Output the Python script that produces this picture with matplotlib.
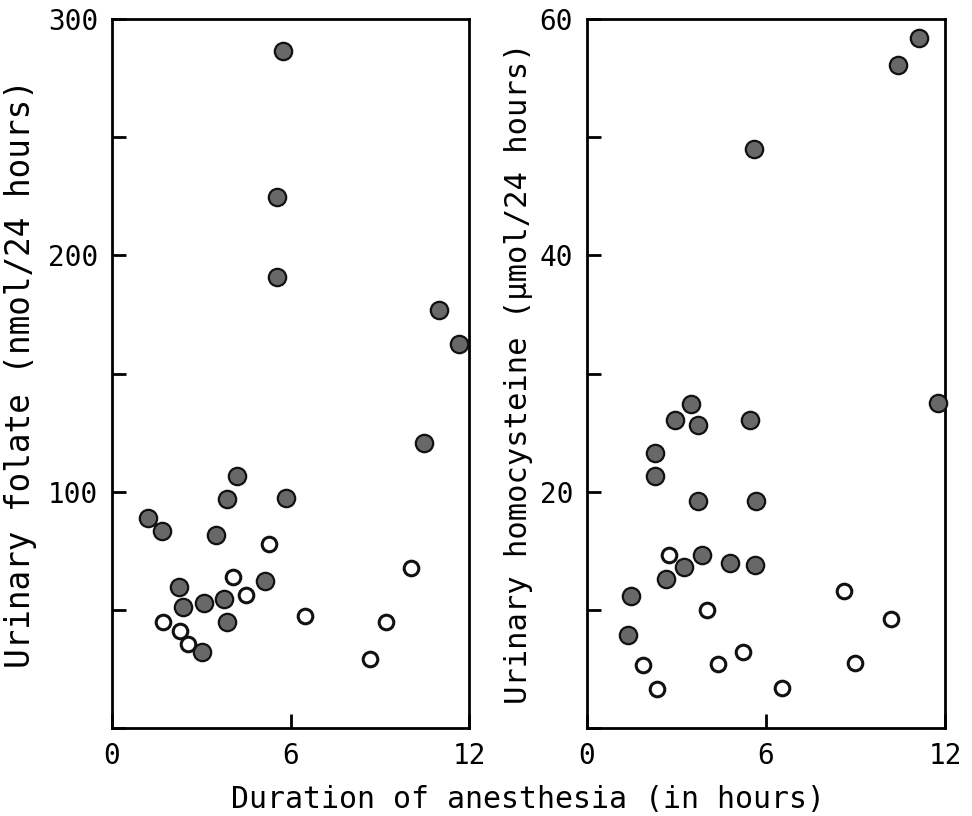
import matplotlib
matplotlib.use("Agg")
import matplotlib.pyplot as plt

# ---- Data ----
# Left panel: urinary folate (nmol/24 h) vs duration of anesthesia (h)
folate_filled_x = [1.22, 1.68, 3.85, 4.19, 5.85, 3.50, 2.26, 2.40, 3.09, 3.76, 3.85,
                   3.03, 5.14, 10.49, 5.76, 5.53, 5.53, 11.0, 11.67]
folate_filled_y = [88.7, 83.5, 96.9, 106.8, 97.2, 81.7, 59.6, 51.2, 53.0, 54.4, 44.9,
                   32.2, 62.3, 120.4, 286.4, 224.5, 190.7, 176.7, 162.3]
folate_open_x = [5.29, 4.08, 4.49, 1.72, 2.28, 2.54, 6.49, 9.20, 8.67, 10.04]
folate_open_y = [77.9, 64.1, 56.1, 44.9, 41.1, 35.7, 47.5, 45.0, 29.4, 67.6]

# Right panel: urinary homocysteine (umol/24 h) vs duration of anesthesia (h)
hcy_filled_x = [11.13, 10.44, 5.59, 11.75, 3.49, 2.95, 3.71, 5.46, 2.29, 2.29, 3.71,
                5.67, 3.86, 3.24, 4.80, 5.64, 2.64, 1.47, 1.38]
hcy_filled_y = [58.4, 56.1, 49.0, 27.5, 27.4, 26.1, 25.6, 26.1, 23.3, 21.3, 19.2,
                19.2, 14.6, 13.6, 14.0, 13.8, 12.6, 11.2, 7.9]
hcy_open_x = [2.75, 4.02, 8.60, 10.19, 5.24, 4.38, 1.89, 2.36, 6.54, 8.99]
hcy_open_y = [14.6, 10.0, 11.6, 9.2, 6.4, 5.4, 5.3, 3.3, 3.4, 5.5]

x_ticks = [0, 6, 12]
folate_ticks = [0, 50, 100, 150, 200, 250, 300]
folate_labels = ["", "", "100", "", "200", "", "300"]
hcy_ticks = [0, 10, 20, 30, 40, 50, 60]
hcy_labels = ["", "", "20", "", "40", "", "60"]

FONT = "DejaVu Sans Mono"
plt.rcParams["font.family"] = FONT

fig = plt.figure(figsize=(9.72, 8.16), dpi=100)
ax1 = fig.add_axes([112/972, 1-728/816, 357/972, 709/816])
ax2 = fig.add_axes([587/972, 1-728/816, 358/972, 709/816])

def style(ax, ylim, yt, ylab, ylabel, labx, lsize):
    ax.set_xlim(0, 12)
    ax.set_ylim(*ylim)
    ax.set_xticks(x_ticks)
    ax.set_xticklabels([str(v) for v in x_ticks])
    ax.set_yticks(yt)
    ax.set_yticklabels(ylab)
    ax.tick_params(direction="in", length=10, width=2, labelsize=20, pad=10,
                   color="black")
    for s in ax.spines.values():
        s.set_linewidth(2)
    ax.set_ylabel(ylabel, fontsize=lsize)
    ax.yaxis.set_label_coords(labx, 0.5)

def draw(ax, fx, fy, ox, oy):
    ax.plot(fx, fy, linestyle="none", marker="o", markersize=12.5,
            markerfacecolor="#686868", markeredgecolor="#111111",
            markeredgewidth=1.6, clip_on=False, zorder=3)
    ax.plot(ox, oy, linestyle="none", marker="o", markersize=10.5,
            markerfacecolor="white", markeredgecolor="#111111",
            markeredgewidth=2.2, clip_on=False, zorder=3)

draw(ax1, folate_filled_x, folate_filled_y, folate_open_x, folate_open_y)
draw(ax2, hcy_filled_x, hcy_filled_y, hcy_open_x, hcy_open_y)
style(ax1, (0, 300), folate_ticks, folate_labels,
      "Urinary folate (nmol/24 hours)", -0.21, 23.5)
style(ax2, (0, 60), hcy_ticks, hcy_labels,
      "Urinary homocysteine (µmol/24 hours)", -0.15, 22)

fig.text(528/972, 1-800/816, "Duration of anesthesia (in hours)",
         ha="center", va="center", fontsize=21.5)

fig.savefig("out.png", dpi=100)
